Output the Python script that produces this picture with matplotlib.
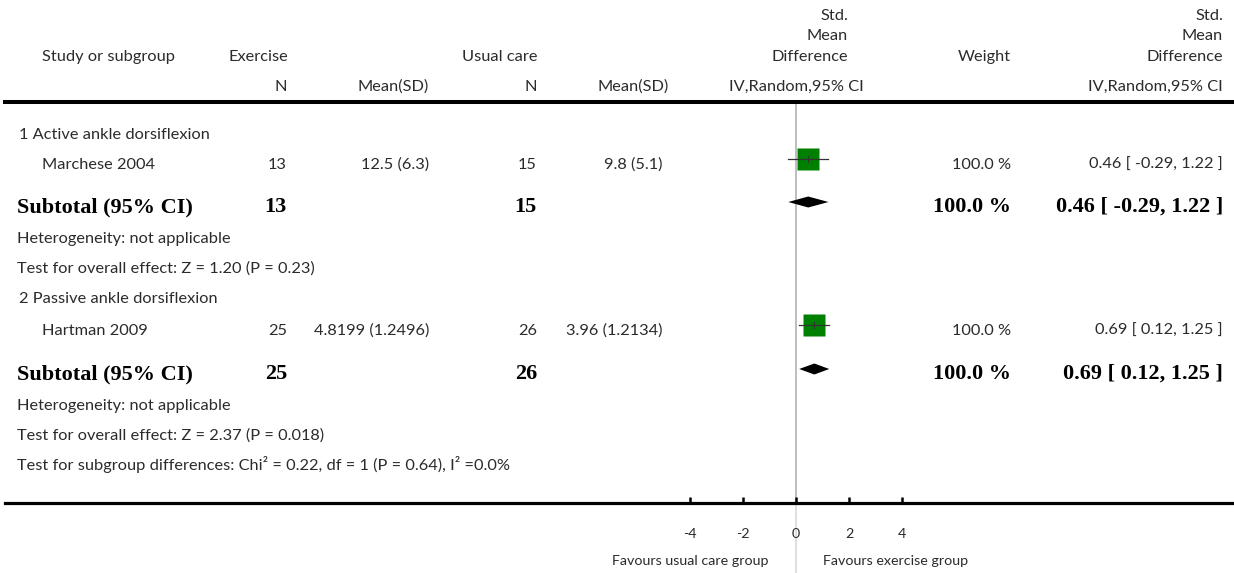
import matplotlib
matplotlib.use("Agg")
import matplotlib.pyplot as plt

plt.rcParams['axes.unicode_minus'] = False

# ---------------- data ----------------
groups = ["1 Active ankle dorsiflexion", "2 Passive ankle dorsiflexion"]
studies = ["Marchese 2004", "Hartman 2009"]
exp_n = [13, 25]
exp_mean_sd = ["12.5 (6.3)", "4.8199 (1.2496)"]
ctl_n = [15, 26]
ctl_mean_sd = ["9.8 (5.1)", "3.96 (1.2134)"]
smd = [0.46, 0.69]
ci_lo = [-0.29, 0.12]
ci_hi = [1.22, 1.25]
weights = [100.0, 100.0]
sub_smd = [0.46, 0.69]
sub_lo = [-0.29, 0.12]
sub_hi = [1.22, 1.25]
heterogeneity = ["Heterogeneity: not applicable", "Heterogeneity: not applicable"]
overall_effect = ["Test for overall effect: Z = 1.20 (P = 0.23)",
                  "Test for overall effect: Z = 2.37 (P = 0.018)"]
subgroup_test = "Test for subgroup differences: Chi\u00b2 = 0.22, df = 1 (P = 0.64), I\u00b2 =0.0%"
xticks = [-4, -2, 0, 2, 4]
left_label = "Favours usual care group"
right_label = "Favours exercise group"

# ---------------- layout ----------------
W, H = 1234, 573
fig = plt.figure(figsize=(W / 100, H / 100), dpi=100)

tx = fig.add_axes([0, 0, 1, 1])
tx.set_xlim(0, W)
tx.set_ylim(H, 0)
tx.axis('off')

SANS = ['Lato', 'DejaVu Sans']
SERIF = ['Liberation Serif', 'DejaVu Serif']
TXT = '#2b2b2b'
FS = 11.8
FS_SMALL = 10.3


def t(x, y, s, ha='left', bold=False):
    if bold:
        tx.text(x, y, s, ha=ha, va='baseline', fontsize=16, family=SERIF,
                fontweight='bold', color='black')
    else:
        tx.text(x, y, s, ha=ha, va='baseline', fontsize=FS, family=SANS,
                fontweight='normal', color=TXT)


# header
t(42, 61, "Study or subgroup")
t(228, 61, "Exercise")
t(462, 61, "Usual care")
for xr in (848, 1223):
    t(xr, 20.5, "Std.", 'right')
    t(xr, 40.5, "Mean", 'right')
    t(xr, 61, "Difference", 'right')
t(1011, 61, "Weight", 'right')
t(287, 91, "N", 'right')
t(429, 91, "Mean(SD)", 'right')
t(537, 91, "N", 'right')
t(669, 91, "Mean(SD)", 'right')
t(796, 91, "IV,Random,95% CI", 'center')
t(1223, 91, "IV,Random,95% CI", 'right')

group_y = [139, 303]
study_y = [169, 335]
sub_y = [212, 379]
het_y = [243, 410]
ov_y = [273, 440]
subtest_y = 470

for i in range(2):
    t(19, group_y[i], groups[i])
    t(42, study_y[i], studies[i])
    t(287, study_y[i], str(exp_n[i]), 'right')
    t(429, study_y[i], exp_mean_sd[i], 'right')
    t(537, study_y[i], str(ctl_n[i]), 'right')
    t(663, study_y[i], ctl_mean_sd[i], 'right')
    t(1011, study_y[i], f"{weights[i]:.1f} %", 'right')
    t(1223, study_y[i], f"{smd[i]:.2f} [ {ci_lo[i]:.2f}, {ci_hi[i]:.2f} ]", 'right')

    t(17, sub_y[i], "Subtotal (95% CI)", bold=True)
    t(287, sub_y[i], str(exp_n[i]), 'right', bold=True)
    t(537, sub_y[i], str(ctl_n[i]), 'right', bold=True)
    t(1011, sub_y[i], f"{weights[i]:.1f} %", 'right', bold=True)
    t(1223, sub_y[i], f"{sub_smd[i]:.2f} [ {sub_lo[i]:.2f}, {sub_hi[i]:.2f} ]", 'right', bold=True)

    t(17, het_y[i], heterogeneity[i])
    t(17, ov_y[i], overall_effect[i])
t(17, subtest_y, subgroup_test)

# ---------------- forest axes ----------------
PX_PER_UNIT = 26.6
ZERO_PX = 796
AX_TOP, AX_BOT, AX_LEFT = 102, 503, 5
fx = fig.add_axes([AX_LEFT / W, (H - AX_BOT) / H, (W - AX_LEFT) / W, (AX_BOT - AX_TOP) / H])
fx.set_xlim((AX_LEFT - ZERO_PX) / PX_PER_UNIT, (W - ZERO_PX) / PX_PER_UNIT)
fx.set_ylim(AX_BOT, AX_TOP)
fx.patch.set_visible(False)
for s in ('left', 'right'):
    fx.spines[s].set_visible(False)
fx.spines['top'].set_linewidth(2.9)
fx.spines['bottom'].set_linewidth(2.3)
fx.set_yticks([])
fx.set_xticks(xticks)
fx.set_xticklabels([str(v) for v in xticks])
fx.tick_params(axis='x', direction='in', length=4.5, width=1.8, pad=18,
               labelsize=FS_SMALL, labelcolor=TXT)
for lab in fx.get_xticklabels():
    lab.set_family(SANS)

# zero line
fx.axvline(0, color='#b3b3b3', lw=1.2, zorder=0)
fx.plot([0, 0], [AX_BOT, H], color='#d9d9d9', lw=1.2, clip_on=False, zorder=0)

square_y = [159, 325]
diamond_y = [202, 369]
for i in range(2):
    y = square_y[i]
    fx.plot([smd[i]], [y], marker='s', ms=15.8, color='#008000', mec='none', zorder=2)
    fx.plot([ci_lo[i], ci_hi[i]], [y, y], color='#333333', lw=0.9, zorder=3)
    fx.plot([smd[i], smd[i]], [y - 3, y + 3], color='#333333', lw=0.9, zorder=3)
    yd = diamond_y[i]
    fx.fill([sub_lo[i], sub_smd[i], sub_hi[i], sub_smd[i]],
            [yd, yd - 5.5, yd, yd + 5.5], color='black', lw=0, zorder=3)

fx.annotate(left_label, xy=(0, AX_BOT), xycoords='data', xytext=(-19.5, -44.5),
            textcoords='offset points', ha='right', va='baseline', fontsize=FS_SMALL,
            family=SANS, color=TXT, annotation_clip=False)
fx.annotate(right_label, xy=(0, AX_BOT), xycoords='data', xytext=(19.5, -44.5),
            textcoords='offset points', ha='left', va='baseline', fontsize=FS_SMALL,
            family=SANS, color=TXT, annotation_clip=False)

fig.savefig("out.png", dpi=100)
